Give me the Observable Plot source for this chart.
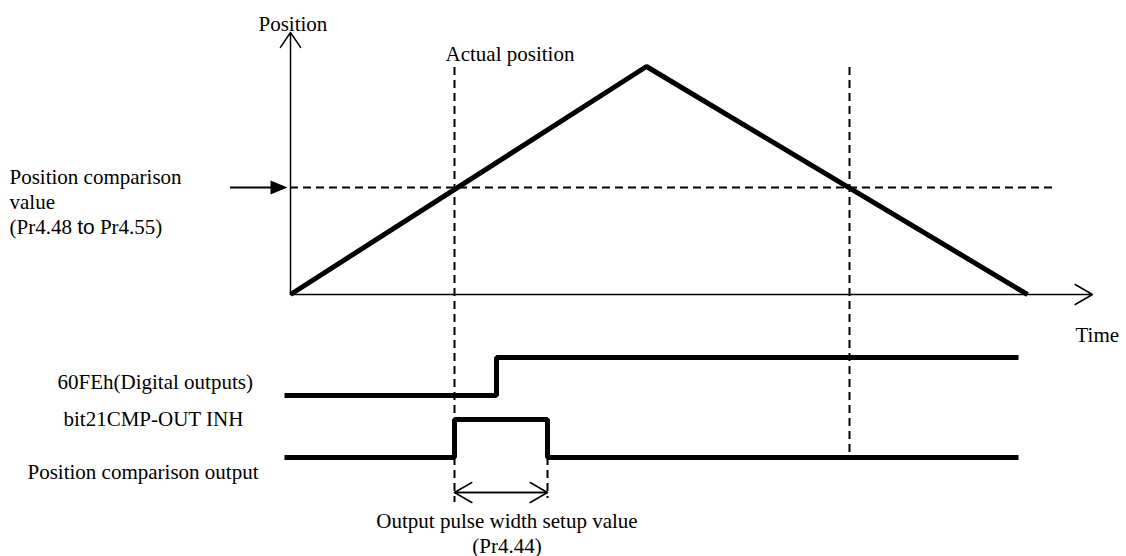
<!DOCTYPE html>
<html>
<head>
<meta charset="utf-8">
<script src="https://cdn.jsdelivr.net/npm/d3@7"></script>
<script src="https://cdn.jsdelivr.net/npm/@observablehq/plot@0.6"></script>
<style>
  html, body { margin: 0; padding: 0; background: #fff; }
  #chart svg { display: block; }
</style>
</head>
<body>
<div id="chart"></div>
<script>
// ---------------- data (time t and position p; origin where the two axes meet) ----------------
const positionTimes = [0, 356, 737];          // start, peak, end of the actual position profile
const positionValues = [0, 228, 0];
const comparisonValue = 107;                  // Pr4.48 to Pr4.55
const crossingTimes = [164, 559];             // actual position passes the comparison value
const pulseWidth = 93;                        // Pr4.44
const digitalOutputTimes = [-6, 206, 728];    // 60FEh bit21 CMP-OUT INH
const digitalOutputLevels = [0, 1, 1];
const compareOutputTimes = [-6, 164, 257, 728];
const compareOutputLevels = [0, 1, 0, 0];

const axisTitles = ["Position", "Time"];
const curveTitle = "Actual position";
const comparisonTitle = ["Position comparison", "value", "(Pr4.48 to Pr4.55)"];
const signalTitles = ["60FEh(Digital outputs)", "bit21CMP-OUT INH", "Position comparison output"];
const pulseTitle = ["Output pulse width setup value", "(Pr4.44)"];

// ---------------- layout ----------------
const W = 1126, H = 556;
const originX = 290, originY = 294;           // pixel location of the axes origin
const tMax = 802, pMax = 262;                 // arrow tips of the axes
const rowBase = [-101, -163];                 // low level of each timing row
const rowAmp = 38;
const black = "#000";
const font = "'Liberation Serif', 'Times New Roman', serif";

const positionData = positionTimes.map((t, i) => ({t, p: positionValues[i]}));
const digitalData = digitalOutputTimes.map((t, i) => ({t, p: rowBase[0] + rowAmp * digitalOutputLevels[i]}));
const compareData = compareOutputTimes.map((t, i) => ({t, p: rowBase[1] + rowAmp * compareOutputLevels[i]}));
const pulseStart = crossingTimes[0], pulseEnd = crossingTimes[0] + pulseWidth;

const vDashes = [
  {t: crossingTimes[0], p1: positionValues[1] - 1, p2: -208},
  {t: pulseEnd, p1: rowBase[1], p2: -204},
  {t: crossingTimes[1], p1: positionValues[1] - 1, p2: rowBase[1]}
];

const texts = [
  {t: -32, p: 264, text: axisTitles[0], anchor: "start"},
  {t: 785, p: -47, text: axisTitles[1], anchor: "start"},
  {t: 155, p: 234, text: curveTitle, anchor: "start"},
  {t: -281, p: 61, text: comparisonTitle.join("\n"), anchor: "start"},
  {t: -233, p: -94, text: signalTitles[0], anchor: "start"},
  {t: -227, p: -131, text: signalTitles[1], anchor: "start"},
  {t: -263, p: -184, text: signalTitles[2], anchor: "start"},
  {t: (pulseStart + pulseEnd) / 2 + 6, p: -233, text: pulseTitle[0], anchor: "middle"},
  {t: (pulseStart + pulseEnd) / 2 + 6, p: -258, text: pulseTitle[1], anchor: "middle"}
];

const solidHead = {
  draw(context) {
    context.moveTo(0, 0);
    context.lineTo(-17, -7);
    context.lineTo(-17, 7);
    context.closePath();
  }
};

const chart = Plot.plot({
  width: W,
  height: H,
  margin: 0,
  x: {domain: [-originX, W - originX], range: [0, W], axis: null},
  y: {domain: [originY - H, originY], range: [H, 0], axis: null},
  style: {fontFamily: font, fontSize: "21px", background: "#fff", color: black},
  marks: [
    // dashed guides
    Plot.ruleY([comparisonValue], {x1: 0, x2: 765, stroke: black, strokeWidth: 2, strokeDasharray: "8,5"}),
    Plot.ruleX(vDashes, {x: "t", y1: "p1", y2: "p2", stroke: black, strokeWidth: 2, strokeDasharray: "8,5"}),
    // axes with open arrowheads
    Plot.arrow([{x1: 0, y1: 0, x2: 0, y2: pMax}], {x1: "x1", y1: "y1", x2: "x2", y2: "y2", stroke: black, strokeWidth: 1.5, headLength: 18, headAngle: 68}),
    Plot.arrow([{x1: 0, y1: 0, x2: tMax, y2: 0}], {x1: "x1", y1: "y1", x2: "x2", y2: "y2", stroke: black, strokeWidth: 1.5, headLength: 20, headAngle: 60}),
    // comparison value pointer
    Plot.ruleY([comparisonValue], {x1: -60, x2: -16, stroke: black, strokeWidth: 2}),
    Plot.dot([comparisonValue], {x: -3, y: d => d, symbol: solidHead, fill: black, stroke: "none", r: 5}),
    // actual position profile
    Plot.line(positionData, {x: "t", y: "p", stroke: black, strokeWidth: 5, strokeLinejoin: "miter", strokeLinecap: "butt"}),
    // timing signals
    Plot.line(digitalData, {x: "t", y: "p", curve: "step-after", stroke: black, strokeWidth: 5, strokeLinejoin: "miter", strokeLinecap: "butt"}),
    Plot.line(compareData, {x: "t", y: "p", curve: "step-after", stroke: black, strokeWidth: 5, strokeLinejoin: "miter", strokeLinecap: "butt"}),
    // pulse width double arrow
    Plot.arrow([{x1: pulseEnd, x2: pulseStart}, {x1: pulseStart, x2: pulseEnd}], {x1: "x1", x2: "x2", y1: -198, y2: -198, stroke: black, strokeWidth: 1.5, headLength: 20, headAngle: 60}),
    // texts
    Plot.text(texts.filter(d => d.anchor === "start"), {x: "t", y: "p", text: "text", textAnchor: "start", lineAnchor: "bottom", lineHeight: 1.19, fill: black}),
    Plot.text(texts.filter(d => d.anchor === "middle"), {x: "t", y: "p", text: "text", textAnchor: "middle", lineAnchor: "bottom", fill: black})
  ]
});

document.getElementById("chart").appendChild(chart);

// the word "to" in the comparison label is set in a sans-serif face in the reference
chart.querySelectorAll("tspan").forEach(ts => {
  if (ts.textContent === comparisonTitle[2]) {
    const parts = comparisonTitle[2].split(" to ");
    ts.textContent = "";
    ts.append(parts[0] + " ");
    const s = document.createElementNS("http://www.w3.org/2000/svg", "tspan");
    s.setAttribute("font-family", "'Liberation Sans', Arial, sans-serif");
    s.textContent = "to";
    ts.append(s);
    ts.append(" " + parts[1]);
  }
});
</script>
</body>
</html>
